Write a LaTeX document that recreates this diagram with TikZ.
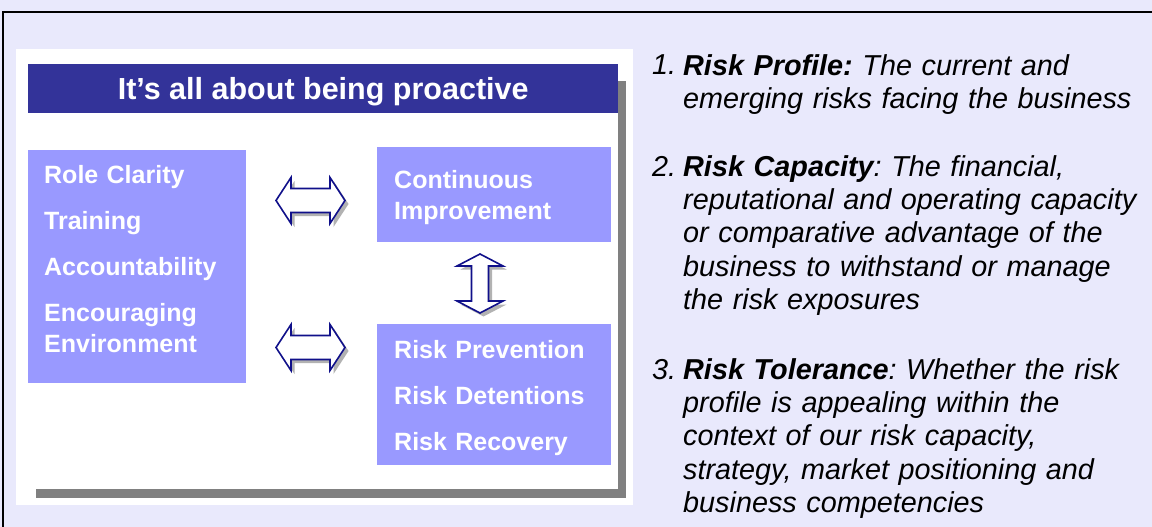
\documentclass[tikz,border=0pt]{standalone}
\usepackage{fontspec}
\setmainfont{Liberation Sans}
\usetikzlibrary{calc}
\frenchspacing
\definecolor{pagebg}{HTML}{E9E9FC}
\definecolor{boxfill}{HTML}{9999FF}
\definecolor{headfill}{HTML}{333399}
\definecolor{arrowline}{HTML}{10108A}
\definecolor{shadowgray}{HTML}{808080}
\tikzset{
  panel/.style={fill=white, draw=none},
  headbar/.style={fill=headfill, inner sep=0, anchor=north west, minimum width=590pt, minimum height=49pt},
  headtxt/.style={text=white, font=\fontsize{30.5}{34}\selectfont\bfseries, inner sep=0},
  blk/.style={fill=boxfill, inner sep=0, anchor=north west},
  blktxt/.style={text=white, font=\fontsize{25}{31}\selectfont\bfseries, inner sep=0, anchor=north west, text width=215pt, align=left},
  itemnum/.style={font=\fontsize{28.8}{33.4}\selectfont\itshape, inner sep=0, anchor=base west},
  itemtxt/.style={font=\fontsize{28.8}{33.4}\selectfont\itshape, inner sep=0, anchor=north west, text width=520pt, align=left}
}
% block arrow outline: half length, head length, half shaft, half head
\def\arrowpath(#1:#2:#3:#4){(-#1,0) -- ({-#1+#2},-#4) -- ({-#1+#2},-#3) -- ({#1-#2},-#3) -- ({#1-#2},-#4) -- (#1,0) -- ({#1-#2},#4) -- ({#1-#2},#3) -- ({-#1+#2},#3) -- ({-#1+#2},#4) -- cycle}
\def\dblarrow(#1)[#2](#3:#4:#5:#6){%
  \begin{scope}[shift={(#1)}]
    \fill[gray!60, shift={(3.5,3.5)}, rotate=#2] \arrowpath(#3:#4:#5:#6);
    \draw[arrowline, fill=white, line width=1.6pt, line join=miter, rotate=#2] \arrowpath(#3:#4:#5:#6);
  \end{scope}}

\begin{document}
\begin{tikzpicture}[x=1pt, y=-1pt]
  %%%%% START %%%%%
  \useasboundingbox (0,0) rectangle (1152,527);
  \fill[pagebg] (0,0) rectangle (1152,527);
  \draw[line width=2pt] (3,12) rectangle (1170,545);

  % framed slide with its shadow
  \fill[panel] (16,49) rectangle (633,505);
  \fill[shadowgray] (36,81) rectangle (626,498);
  \fill[panel] (28,64) rectangle (618,489);

  \node[headbar] (head) at (28,64) {};
  \node[headtxt, anchor=base] (headline) at ([yshift=-10.5pt]head.center) {It’s all about being proactive};

  % boxes
  \node[blk, minimum width=218pt, minimum height=233pt] (roles) at (28,150) {};
  \node[blk, minimum width=234pt, minimum height=95pt] (improve) at (377,147) {};
  \node[blk, minimum width=234pt, minimum height=141pt] (risks) at (377,324) {};

  \node[blktxt] (rolestxt) at (44,161.6) {\strut Role Clarity\\[15pt]Training\\[15pt]Accountability\\[15pt]Encouraging\\Environment};
  \node[blktxt] (improvetxt) at (394,166.3) {\strut Continuous\\Improvement};
  \node[blktxt] (riskstxt) at (394,336.3) {\strut Risk Prevention\\[15pt]Risk Detentions\\[15pt]Risk Recovery};

  % arrows between the boxes
  \coordinate (link1) at (310.5,200.5);
  \coordinate (link2) at (310.5,347.5);
  \coordinate (link3) at (480,283.5);
  \dblarrow(link1)[0](34.5:15:12:23)
  \dblarrow(link2)[0](34.5:15:12:23)
  \dblarrow(link3)[90](29.5:12:8.5:23)

  % the three points
  \node[itemnum] (num1) at (652,75) {1.};
  \node[itemtxt] (item1) at (683,51.6) {\strut\textbf{Risk Profile:} The current and\\emerging risks facing the business};

  \node[itemnum] (num2) at (652,176) {2.};
  \node[itemtxt] (item2) at (683,152.6) {\strut\textbf{Risk Capacity}: The financial,\\reputational and operating capacity\\or comparative advantage of the\\business to withstand or manage\\the risk exposures};

  \node[itemnum] (num3) at (652,379) {3.};
  \node[itemtxt] (item3) at (683,355.6) {\strut\textbf{Risk Tolerance}: Whether the risk\\profile is appealing within the\\context of our risk capacity,\\strategy, market positioning and\\business competencies};
  %%%%% END %%%%%
\end{tikzpicture}
\end{document}
